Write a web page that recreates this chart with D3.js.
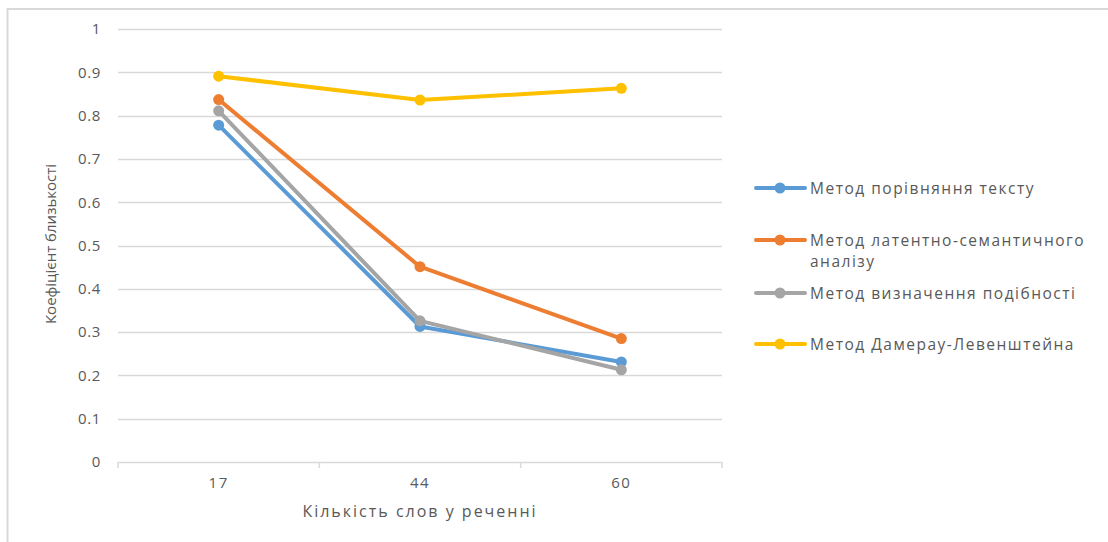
<!DOCTYPE html>
<html>
<head>
<meta charset="utf-8">
<script src="https://cdn.jsdelivr.net/npm/d3@7"></script>
<style>
  html, body { margin: 0; padding: 0; background: #fff; }
  svg { display: block; font-family: "Open Sans", "Noto Sans", sans-serif; }
</style>
</head>
<body>
<svg id="chart" width="1108" height="542"></svg>
<script>
// Sentence length (words) on the x axis
const categories = ["17", "44", "60"];

// Similarity coefficient per method
const seriesNames = [
  "Метод порівняння тексту",
  "Метод латентно-семантичного аналізу",
  "Метод визначення подібності",
  "Метод Дамерау-Левенштейна"
];
const textComparison   = [0.778, 0.313, 0.231];
const latentSemantic   = [0.837, 0.451, 0.285];
const similarityMethod = [0.811, 0.326, 0.213];
const damerauLevenshtein = [0.891, 0.836, 0.863];

const yTicks = [0, 0.1, 0.2, 0.3, 0.4, 0.5, 0.6, 0.7, 0.8, 0.9, 1];
const colors = ["#5B9BD5", "#ED7D31", "#A5A5A5", "#FFC000"];
const legendLines = [
  ["Метод порівняння тексту"],
  ["Метод латентно-семантичного", "аналізу"],
  ["Метод визначення подібності"],
  ["Метод Дамерау-Левенштейна"]
];

const series = [textComparison, latentSemantic, similarityMethod, damerauLevenshtein]
  .map((values, i) => ({ name: seriesNames[i], color: colors[i], values }));

const svg = d3.select("#chart");
const textColor = "#595959";
const gridColor = "#d9d9d9";

// Outer chart frame (top and left edges)
svg.append("path")
  .attr("d", "M7.5,542 V9 H1108")
  .attr("fill", "none")
  .attr("stroke", gridColor)
  .attr("stroke-width", 2);

const x = d3.scaleBand().domain(categories).range([118, 722]).paddingInner(0).paddingOuter(0);
const y = d3.scaleLinear().domain([0, 1]).range([462, 29]);
const cx = d => x(d) + x.bandwidth() / 2;

// Horizontal gridlines
svg.append("g")
  .selectAll("line")
  .data(yTicks.filter(t => t > 0))
  .join("line")
  .attr("x1", 118).attr("x2", 722)
  .attr("y1", d => Math.round(y(d)) + 0.5).attr("y2", d => Math.round(y(d)) + 0.5)
  .attr("stroke", gridColor).attr("stroke-width", 1.5);

// Y axis labels
const yAxis = d3.axisLeft(y).tickValues(yTicks).tickSize(0).tickPadding(0)
  .tickFormat(d => d3.format("")(+d.toFixed(1)));
svg.append("g")
  .attr("transform", "translate(101,0)")
  .call(yAxis)
  .call(g => g.select(".domain").remove())
  .call(g => g.selectAll("text")
    .attr("fill", textColor)
    .attr("font-size", 15)
    .attr("letter-spacing", 0.6)
    .attr("font-family", "'Open Sans', sans-serif"));

// X axis baseline with tick marks at category boundaries
const boundaries = categories.map(c => x(c)).concat([x.range()[1]]);
const xg = svg.append("g");
xg.append("line")
  .attr("x1", 118).attr("x2", 722)
  .attr("y1", 462.5).attr("y2", 462.5)
  .attr("stroke", gridColor).attr("stroke-width", 1.5);
xg.selectAll("line.tick")
  .data(boundaries)
  .join("line")
  .attr("class", "tick")
  .attr("x1", d => d).attr("x2", d => d)
  .attr("y1", 462).attr("y2", 468)
  .attr("stroke", gridColor).attr("stroke-width", 1.5);
xg.selectAll("text")
  .data(categories)
  .join("text")
  .attr("x", d => cx(d))
  .attr("y", 488)
  .attr("text-anchor", "middle")
  .attr("fill", textColor)
  .attr("font-size", 15)
  .attr("letter-spacing", 1.5)
  .text(d => d);

// Axis titles
svg.append("text")
  .attr("x", 420).attr("y", 517)
  .attr("text-anchor", "middle")
  .attr("fill", textColor)
  .attr("font-size", 16)
  .attr("letter-spacing", 2)
  .text("Кількість слов у реченні");

svg.append("text")
  .attr("transform", "translate(56,244) rotate(-90)")
  .attr("text-anchor", "middle")
  .attr("fill", textColor)
  .attr("font-size", 15)
  .text("Коефіцієнт близькості");

// Series lines and markers
const line = d3.line()
  .x((d, i) => cx(categories[i]))
  .y(d => y(d));

const sg = svg.append("g").selectAll("g")
  .data(series)
  .join("g");

sg.append("path")
  .attr("d", d => line(d.values))
  .attr("fill", "none")
  .attr("stroke", d => d.color)
  .attr("stroke-width", 4)
  .attr("stroke-linejoin", "round")
  .attr("stroke-linecap", "round");

sg.selectAll("circle")
  .data(d => d.values.map((v, i) => ({ v, i, color: d.color })))
  .join("circle")
  .attr("cx", d => cx(categories[d.i]))
  .attr("cy", d => y(d.v))
  .attr("r", 5.5)
  .attr("fill", d => d.color);

// Legend
const legendY = [188, 240, 293, 344];
const lg = svg.append("g").selectAll("g")
  .data(series)
  .join("g")
  .attr("transform", (d, i) => `translate(0,${legendY[i]})`);

lg.append("line")
  .attr("x1", 756).attr("x2", 805)
  .attr("y1", 0).attr("y2", 0)
  .attr("stroke", d => d.color)
  .attr("stroke-width", 4)
  .attr("stroke-linecap", "round");

lg.append("circle")
  .attr("cx", 780).attr("cy", 0).attr("r", 5.5)
  .attr("fill", d => d.color);

lg.append("text")
  .attr("x", 810)
  .attr("y", 5.5)
  .attr("fill", textColor)
  .attr("font-size", 15.5)
  .attr("letter-spacing", 1.5)
  .selectAll("tspan")
  .data((d, i) => legendLines[i])
  .join("tspan")
  .attr("x", 810)
  .attr("dy", (d, j) => j === 0 ? 0 : 21)
  .text(d => d);
</script>
</body>
</html>
